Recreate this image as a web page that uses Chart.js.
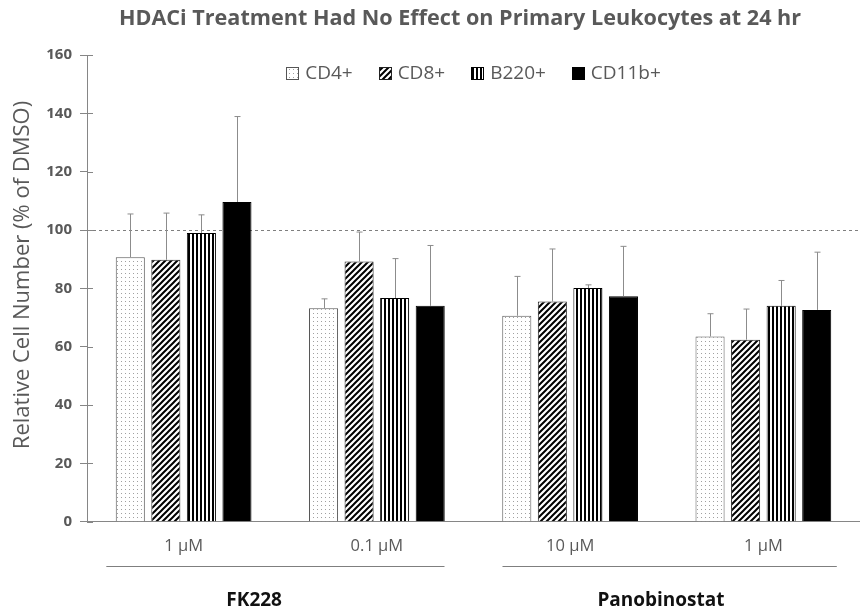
<!DOCTYPE html>
<html>
<head>
<meta charset="utf-8">
<script src="https://cdn.jsdelivr.net/npm/chart.js@4"></script>
<style>
  body { margin: 0; background: #fff; }
  canvas { display: block; }
</style>
</head>
<body>
<canvas id="chart" width="860" height="616"></canvas>
<script>
const chartTitle = "HDACi Treatment Had No Effect on Primary Leukocytes at 24 hr";
const yTitle = "Relative Cell Number (% of DMSO)";

const doses = ["1 \u00b5M", "0.1 \u00b5M", "10 \u00b5M", "1 \u00b5M"];
const drugs = ["FK228", "Panobinostat"];
const drugDoses = [[0, 1], [2, 3]]; // which dose columns belong to each drug

const cellTypes = ["CD4+", "CD8+", "B220+", "CD11b+"];
const cd4 = [90.7, 73.2, 70.6, 63.5];
const cd8 = [89.8, 89.2, 75.5, 62.4];
const b220 = [99.0, 76.7, 80.1, 74.0];
const cd11b = [109.6, 74.0, 77.3, 72.6];
// upper error (SD)
const cd4Err = [14.8, 3.2, 13.5, 7.8];
const cd8Err = [16.0, 10.1, 18.0, 10.5];
const b220Err = [6.2, 13.5, 1.1, 8.7];
const cd11bErr = [29.3, 20.7, 17.1, 19.8];

const yTicks = [0, 20, 40, 60, 80, 100, 120, 140, 160];
const refLine = 100;

const GRAY = "#595959";
const FONT = "'Open Sans'";

function makePattern(kind) {
  const c = document.createElement("canvas");
  const x = c.getContext("2d");
  if (kind === "dots") {
    c.width = 4; c.height = 4;
    x.fillStyle = "#fff"; x.fillRect(0, 0, 4, 4);
    x.fillStyle = "#a0a0a0"; x.fillRect(1, 1, 1, 1);
  } else if (kind === "diag") {
    c.width = 6; c.height = 6;
    x.fillStyle = "#fff"; x.fillRect(0, 0, 6, 6);
    x.strokeStyle = "#000"; x.lineWidth = 2;
    x.beginPath();
    x.moveTo(-1, 7); x.lineTo(7, -1);
    x.moveTo(-4, 4); x.lineTo(4, -4);
    x.moveTo(2, 10); x.lineTo(10, 2);
    x.stroke();
  } else if (kind === "vert") {
    c.width = 4; c.height = 4;
    x.fillStyle = "#fff"; x.fillRect(0, 0, 4, 4);
    x.fillStyle = "#000"; x.fillRect(0, 0, 2, 4);
  }
  return document.getElementById("chart").getContext("2d").createPattern(c, "repeat");
}

const errors = [cd4Err, cd8Err, b220Err, cd11bErr];

const errorBars = {
  id: "errorBars",
  afterDatasetsDraw(chart) {
    const ctx = chart.ctx;
    const y = chart.scales.y;
    ctx.save();
    ctx.strokeStyle = "#8c8c8c";
    ctx.lineWidth = 1;
    chart.data.datasets.forEach((ds, i) => {
      const meta = chart.getDatasetMeta(i);
      meta.data.forEach((bar, j) => {
        const top = y.getPixelForValue(ds.data[j] + errors[i][j]);
        const bx = Math.round(bar.x) + 0.5;
        ctx.beginPath();
        ctx.moveTo(bx, bar.y);
        ctx.lineTo(bx, top);
        ctx.moveTo(bx - 3, top);
        ctx.lineTo(bx + 3, top);
        ctx.stroke();
      });
    });
    ctx.restore();
  }
};

// dashed 100% line + inner half of y tick marks
const refLinePlugin = {
  id: "refLine",
  beforeDatasetsDraw(chart) {
    const ctx = chart.ctx;
    const a = chart.chartArea;
    const ys = chart.scales.y;
    const yy = Math.round(ys.getPixelForValue(refLine)) + 0.5;
    ctx.save();
    ctx.strokeStyle = "#7f7f7f";
    ctx.lineWidth = 1;
    ctx.setLineDash([3, 3]);
    ctx.beginPath();
    ctx.moveTo(a.left, yy);
    ctx.lineTo(a.right, yy);
    ctx.stroke();
    ctx.setLineDash([]);
    ctx.strokeStyle = "#868686";
    ctx.beginPath();
    yTicks.forEach(v => {
      const ty = Math.round(ys.getPixelForValue(v)) + 0.5;
      ctx.moveTo(a.left, ty);
      ctx.lineTo(a.left + 6, ty);
    });
    ctx.stroke();
    ctx.restore();
  }
};

// title and y-axis title, placed like the original
const titles = {
  id: "titles",
  afterDraw(chart) {
    const ctx = chart.ctx;
    ctx.save();
    ctx.fillStyle = GRAY;
    ctx.textAlign = "center";
    ctx.textBaseline = "middle";
    ctx.font = "bold 21.6px " + FONT;
    ctx.fillText(chartTitle, 460, 19);
    ctx.translate(23, 275);
    ctx.rotate(-Math.PI / 2);
    ctx.font = "22px " + FONT;
    ctx.fillText(yTitle, 0, 0);
    ctx.restore();
  }
};

const customLegend = {
  id: "customLegend",
  afterDraw(chart) {
    const ctx = chart.ctx;
    const a = chart.chartArea;
    const box = 12, gapText = 7, gapItem = 26, cy = 73;
    ctx.save();
    ctx.font = "19px " + FONT;
    ctx.textBaseline = "middle";
    const widths = chart.data.datasets.map(ds => ctx.measureText(ds.label).width);
    const total = widths.reduce((s, w) => s + box + gapText + w, 0) + gapItem * (widths.length - 1);
    let x = (a.left + a.right) / 2 - total / 2;
    chart.data.datasets.forEach((ds, i) => {
      const bx = Math.round(x) + 0.5, by = Math.round(cy - box / 2) + 0.5;
      ctx.fillStyle = ds.backgroundColor;
      ctx.fillRect(bx, by, box, box);
      ctx.strokeStyle = ds.borderColor;
      ctx.lineWidth = 1;
      ctx.strokeRect(bx, by, box, box);
      ctx.fillStyle = GRAY;
      ctx.fillText(ds.label, x + box + gapText, cy + 1);
      x += box + gapText + widths[i] + gapItem;
    });
    ctx.restore();
  }
};

const drugLabels = {
  id: "drugLabels",
  afterDraw(chart) {
    const ctx = chart.ctx;
    const xs = chart.scales.x;
    const w = xs.getPixelForValue(1) - xs.getPixelForValue(0);
    const spans = [[-0.4, 0.35, 0.365], [-0.35, 0.38, 0.47]];
    ctx.save();
    ctx.strokeStyle = "#7f7f7f";
    ctx.lineWidth = 1;
    ctx.fillStyle = "#111";
    ctx.font = "bold 19px " + FONT;
    ctx.textAlign = "center";
    ctx.textBaseline = "middle";
    drugs.forEach((name, k) => {
      const [a, b] = drugDoses[k];
      const x0 = xs.getPixelForValue(a) + spans[k][0] * w;
      const x1 = xs.getPixelForValue(b) + spans[k][1] * w;
      ctx.beginPath();
      ctx.moveTo(x0, 566.5);
      ctx.lineTo(x1, 566.5);
      ctx.stroke();
      const tx = xs.getPixelForValue(a) + spans[k][2] * w;
      ctx.fillText(name, tx, 601);
    });
    ctx.restore();
  }
};

new Chart(document.getElementById("chart"), {
  type: "bar",
  data: {
    labels: doses,
    datasets: [
      { label: cellTypes[0], data: cd4, backgroundColor: makePattern("dots"), borderColor: "#555", borderWidth: 1 },
      { label: cellTypes[1], data: cd8, backgroundColor: makePattern("diag"), borderColor: "#222", borderWidth: 1 },
      { label: cellTypes[2], data: b220, backgroundColor: makePattern("vert"), borderColor: "#000", borderWidth: 1 },
      { label: cellTypes[3], data: cd11b, backgroundColor: "#000", borderColor: "#000", borderWidth: 1 }
    ]
  },
  options: {
    responsive: false,
    animation: false,
    categoryPercentage: 0.736,
    barPercentage: 0.817,
    layout: { padding: { left: 0, right: 0, top: 55, bottom: 60 } },
    plugins: {
      title: { display: false },
      legend: { display: false },
      tooltip: { enabled: false }
    },
    scales: {
      x: {
        grid: { display: false, drawTicks: false },
        border: { color: "#868686" },
        ticks: { color: GRAY, font: { family: FONT, size: 16.5 }, padding: 15 },
        afterFit(s) { s.height = 34.3; }
      },
      y: {
        min: 0,
        max: 160,
        afterBuildTicks(s) { s.ticks = yTicks.map(v => ({ value: v })); },
        grid: { drawOnChartArea: false, drawTicks: true, tickLength: 7, color: "#868686" },
        border: { color: "#868686" },
        ticks: { color: GRAY, font: { family: FONT, size: 15, weight: "bold" }, padding: 8 },
        afterFit(s) { s.width = 87; }
      }
    }
  },
  plugins: [refLinePlugin, errorBars, customLegend, drugLabels, titles]
});
</script>
</body>
</html>
